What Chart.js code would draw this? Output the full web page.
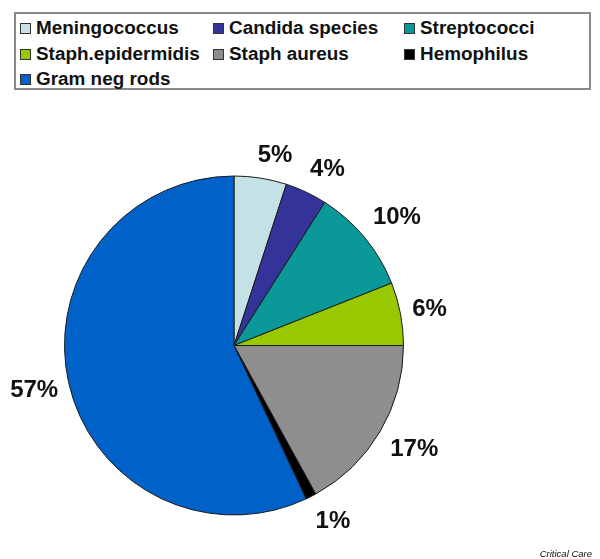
<!DOCTYPE html>
<html>
<head>
<meta charset="utf-8">
<script src="https://cdn.jsdelivr.net/npm/chart.js@4"></script>
<style>
    body { margin: 0; background: #fff; }
    #wrap { position: relative; width: 600px; height: 559px; font-family: "Liberation Sans", Arial, sans-serif; }
    #pieChart { position: absolute; left: 0; top: 0; }
    #legendBox {
        position: absolute; left: 14px; top: 12px; width: 573px; height: 74px;
        border: 2px solid #8a8a8a; background: #fff;
    }
    .item { position: absolute; height: 20px; white-space: nowrap; }
    .swatch { position: absolute; left: 0; top: 5px; width: 9px; height: 9px; border: 1px solid #333; }
    .txt {
        position: absolute; left: 16px; top: 0; font-weight: bold; font-size: 17.5px; line-height: 20px;
        color: #111; transform: scaleX(1.08); transform-origin: left center;
    }
    #credit { position: absolute; right: 8px; top: 548px; font-size: 9.5px; font-style: italic; color: #111; }
</style>
</head>
<body>
<div id="wrap">
    <canvas id="pieChart" width="600" height="559"></canvas>
    <div id="legendBox"></div>
    <div id="credit">Critical Care</div>
</div>
<script>
const categories = ['Meningococcus', 'Candida species', 'Streptococci', 'Staph.epidermidis', 'Staph aureus', 'Hemophilus', 'Gram neg rods'];
const percentValues = [5, 4, 10, 6, 17, 1, 57];
const sliceColors = ['#c4e2e6', '#333399', '#0a9898', '#98c800', '#8e8e8e', '#000000', '#0062c8'];

// legend: 3 columns, filled row by row
const legendCols = [4, 197, 388];
const legendRows = [4, 30, 55];
const legendBox = document.getElementById('legendBox');
categories.forEach((name, i) => {
    const item = document.createElement('div');
    item.className = 'item';
    item.style.left = legendCols[i % 3] + 'px';
    item.style.top = legendRows[Math.floor(i / 3)] + 'px';
    item.innerHTML = `<span class="swatch" style="background:${sliceColors[i]}"></span><span class="txt">${name}</span>`;
    legendBox.appendChild(item);
});

// percentage labels outside the slices, pushed out by part of the text box
const outsideLabels = {
    id: 'outsideLabels',
    afterDatasetsDraw(chart) {
        const ctx = chart.ctx;
        const meta = chart.getDatasetMeta(0);
        ctx.save();
        ctx.font = 'bold 24px "Liberation Sans", Arial, sans-serif';
        ctx.fillStyle = '#111';
        ctx.textAlign = 'center';
        ctx.textBaseline = 'middle';
        meta.data.forEach((arc, i) => {
            const text = percentValues[i] + '%';
            const w = ctx.measureText(text).width;
            const h = 19;
            const mid = (arc.startAngle + arc.endAngle) / 2;
            const c = Math.cos(mid), s = Math.sin(mid);
            const r = arc.outerRadius + 12 + Math.abs(c) * w * 0.4 + Math.abs(s) * h / 2;
            // excel nudges labels sideways near top/bottom
            const nudge = 11 * Math.sign(c) * Math.abs(s);
            ctx.fillText(text, arc.x + c * r + nudge, arc.y + s * r + 1);
        });
        ctx.restore();
    }
};

const ctx = document.getElementById('pieChart').getContext('2d');
const chart = new Chart(ctx, {
    type: 'pie',
    data: {
        labels: categories,
        datasets: [{
            data: percentValues,
            backgroundColor: sliceColors,
            borderColor: '#1a1a1a',
            borderWidth: 1
        }]
    },
    options: {
        responsive: false,
        animation: false,
        layout: { padding: { left: 64, right: 196, top: 175, bottom: 43 } },
        plugins: {
            legend: { display: false },
            tooltip: { enabled: false }
        }
    },
    plugins: [outsideLabels]
});
</script>
</body>
</html>
